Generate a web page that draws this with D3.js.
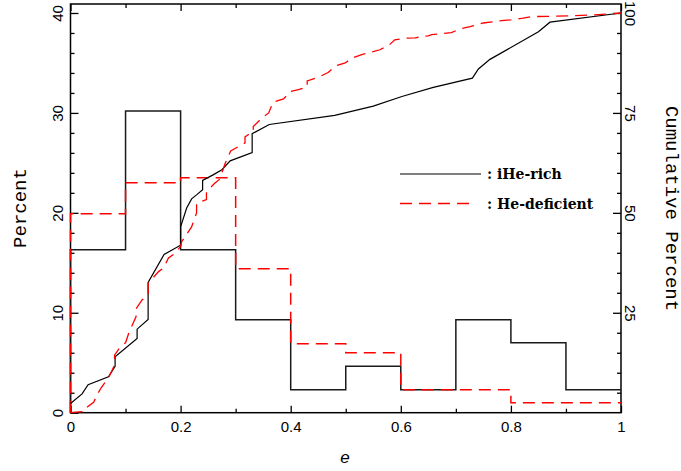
<!DOCTYPE html>
<html>
<head>
<meta charset="utf-8">
<script src="https://cdn.jsdelivr.net/npm/d3@7"></script>
<style>
  body { margin: 0; background: #fff; }
  svg { display: block; }
  .tick text { font-family: "Liberation Sans", Arial, sans-serif; font-size: 15px; fill: #000; }
  .tick line { stroke: #000; stroke-width: 1.3; }
</style>
</head>
<body>
<div class="chart"></div>
<script>
// histogram bins (left edge of each 0.1 bin in e)
var binStarts = [0, 0.1, 0.2, 0.3, 0.4, 0.5, 0.6, 0.7, 0.8, 0.9];
var iHeRichPct = [16.3, 30.2, 16.3, 9.3, 2.3, 4.65, 2.3, 9.3, 7.0, 2.3];
var heDefPct = [19.9, 23.0, 23.5, 14.4, 6.9, 6.0, 2.3, 2.3, 1.0, 1.0];

// cumulative distributions (e, cumulative percent)
var iHeRichCumE = [0, 0.021, 0.032, 0.069, 0.081, 0.081, 0.121, 0.121, 0.141, 0.141, 0.17, 0.2, 0.2, 0.211,
  0.22, 0.229, 0.24, 0.24, 0.259, 0.275, 0.29, 0.33, 0.33, 0.361, 0.48, 0.55, 0.602, 0.659, 0.73, 0.741,
  0.762, 0.85, 0.871, 1.0];
var iHeRichCum = [2.3, 4.7, 7.0, 9.0, 11.6, 14.0, 18.6, 20.9, 23.3, 32.6, 39.6, 41.9, 46.5, 51.2,
  53.5, 54.5, 55.8, 58.1, 59.5, 60.8, 63.0, 65.1, 69.8, 72.1, 74.4, 76.7, 79.1, 81.4, 83.7, 86.0,
  88.4, 95.3, 97.7, 100];

var heDefCumE = [0, 0.025, 0.03, 0.042, 0.05, 0.056, 0.07, 0.08, 0.08, 0.09, 0.1, 0.106, 0.119, 0.119, 0.13,
  0.141, 0.141, 0.16, 0.169, 0.178, 0.19, 0.2, 0.202, 0.22, 0.229, 0.229, 0.247, 0.247, 0.262, 0.27, 0.277,
  0.281, 0.291, 0.317, 0.317, 0.332, 0.332, 0.35, 0.36, 0.368, 0.387, 0.4, 0.414, 0.43, 0.43, 0.453, 0.468,
  0.482, 0.499, 0.511, 0.529, 0.544, 0.562, 0.579, 0.589, 0.608, 0.626, 0.65, 0.656, 0.674, 0.692, 0.707,
  0.726, 0.75, 0.762, 0.783, 0.8, 0.822, 0.838, 0.88, 0.95, 1.0];
var heDefCum = [0, 0.3, 1.4, 2.6, 4.9, 6.3, 9.0, 11.9, 14.4, 16.4, 17.5, 20.0, 24.0, 26.0, 28.2,
  29.5, 32.4, 35.3, 36.2, 38.7, 39.9, 41.6, 42.8, 46.5, 50.0, 52.4, 53.3, 55.3, 57.4, 58.3, 60.8,
  62.4, 65.5, 67.5, 69.0, 70.4, 71.6, 74.0, 75.0, 77.7, 78.5, 80.4, 80.8, 81.5, 83.0, 84.1, 85.1,
  86.8, 87.5, 88.7, 89.6, 90.1, 90.8, 92.0, 93.3, 93.7, 93.8, 94.3, 94.6, 94.8, 95.1, 96.0,
  96.6, 97.5, 97.7, 98.1, 98.3, 98.7, 99.1, 99.2, 99.5, 100];

var xMajor = [0, 0.2, 0.4, 0.6, 0.8, 1];
var xMinor = [0.1, 0.3, 0.5, 0.7, 0.9];
var leftMajor = [0, 10, 20, 30, 40];
var leftMinor = [2, 4, 6, 8, 12, 14, 16, 18, 22, 24, 26, 28, 32, 34, 36, 38];
var rightMajor = [25, 50, 75, 100];
var rightMinor = [5, 10, 15, 20, 30, 35, 40, 45, 55, 60, 65, 70, 80, 85, 90, 95];

var seriesNames = [": iHe-rich", ": He-deficient"];

var width = 681, height = 471;
var plot = {left: 70.5, right: 621, top: 4, bottom: 412.7};

var svg = d3.select('div.chart').append('svg')
    .attr('width', width)
    .attr('height', height);

var xScale = d3.scaleLinear().domain([0, 1]).range([plot.left, plot.right]);
var yLeft = d3.scaleLinear().domain([0, 40.9]).range([plot.bottom, plot.top]);
var yRight = d3.scaleLinear().domain([0, 102.25]).range([plot.bottom, plot.top]);

function cleanAxis(g) {
  g.select('.domain').remove();
}

// bottom
svg.append('g').attr('transform', 'translate(0,' + plot.bottom + ')')
  .call(d3.axisBottom(xScale).tickValues(xMajor).tickSize(-7).tickSizeOuter(0).tickPadding(9)
    .tickFormat(d3.format('')))
  .call(cleanAxis);
svg.append('g').attr('transform', 'translate(0,' + plot.bottom + ')')
  .call(d3.axisBottom(xScale).tickValues(xMinor).tickSize(-4).tickSizeOuter(0).tickFormat(''))
  .call(cleanAxis);
// top
svg.append('g').attr('transform', 'translate(0,' + plot.top + ')')
  .call(d3.axisTop(xScale).tickValues(xMajor).tickSize(-7).tickSizeOuter(0).tickFormat(''))
  .call(cleanAxis);
svg.append('g').attr('transform', 'translate(0,' + plot.top + ')')
  .call(d3.axisTop(xScale).tickValues(xMinor).tickSize(-4).tickSizeOuter(0).tickFormat(''))
  .call(cleanAxis);
// left
svg.append('g').attr('transform', 'translate(' + plot.left + ',0)')
  .call(d3.axisLeft(yLeft).tickValues(leftMajor).tickSize(-8).tickSizeOuter(0))
  .call(cleanAxis)
  .selectAll('text')
  .attr('x', null).attr('dy', null)
  .attr('text-anchor', 'middle')
  .attr('transform', 'translate(-8,0) rotate(-90)');
svg.append('g').attr('transform', 'translate(' + plot.left + ',0)')
  .call(d3.axisLeft(yLeft).tickValues(leftMinor).tickSize(-4).tickSizeOuter(0).tickFormat(''))
  .call(cleanAxis);
// right
svg.append('g').attr('transform', 'translate(' + plot.right + ',0)')
  .call(d3.axisRight(yRight).tickValues(rightMajor).tickSize(-8).tickSizeOuter(0))
  .call(cleanAxis)
  .selectAll('text')
  .attr('x', null).attr('dy', null)
  .attr('text-anchor', 'middle')
  .attr('transform', 'translate(4,0) rotate(90)');
svg.append('g').attr('transform', 'translate(' + plot.right + ',0)')
  .call(d3.axisRight(yRight).tickValues(rightMinor).tickSize(-4).tickSizeOuter(0).tickFormat(''))
  .call(cleanAxis);

// frame
svg.append('rect')
  .attr('x', plot.left).attr('y', plot.top)
  .attr('width', plot.right - plot.left).attr('height', plot.bottom - plot.top)
  .attr('fill', 'none').attr('stroke', '#000').attr('stroke-width', 1.5);

// histograms
function histPoints(vals) {
  var pts = [[0, 0]];
  binStarts.forEach(function (b, i) { pts.push([b, vals[i]]); });
  pts.push([1, vals[vals.length - 1]]);
  return pts;
}
var histLine = d3.line()
    .x(function (d) { return xScale(d[0]); })
    .y(function (d) { return yLeft(d[1]); })
    .curve(d3.curveStepAfter);

svg.append('path')
  .attr('d', histLine(histPoints(iHeRichPct)))
  .attr('fill', 'none').attr('stroke', '#1a1a1a').attr('stroke-width', 1.5);

svg.append('path')
  .attr('d', histLine(histPoints(heDefPct)))
  .attr('fill', 'none').attr('stroke', '#ff0000').attr('stroke-width', 1.5)
  .attr('stroke-dasharray', '12,7');

// cumulative curves
var cumLine = d3.line()
    .x(function (d) { return xScale(d[0]); })
    .y(function (d) { return yRight(d[1]); });

svg.append('path')
  .attr('d', cumLine(d3.zip(iHeRichCumE, iHeRichCum)))
  .attr('fill', 'none').attr('stroke', '#000').attr('stroke-width', 1.2);

svg.append('path')
  .attr('d', cumLine(d3.zip(heDefCumE, heDefCum)))
  .attr('fill', 'none').attr('stroke', '#ff0000').attr('stroke-width', 1.3)
  .attr('stroke-dasharray', '12,7');

// legend
var legend = svg.append('g').attr('class', 'legend');
legend.append('line')
  .attr('x1', 400).attr('x2', 481).attr('y1', 174).attr('y2', 174)
  .attr('stroke', '#000').attr('stroke-width', 1.2);
legend.append('line')
  .attr('x1', 400).attr('x2', 474).attr('y1', 203.5).attr('y2', 203.5)
  .attr('stroke', '#ff0000').attr('stroke-width', 1.3).attr('stroke-dasharray', '12,7');
legend.selectAll('text')
  .data(seriesNames)
  .enter().append('text')
  .attr('x', 487)
  .attr('y', function (d, i) { return 179 + i * 29.5; })
  .style('font-family', '"DejaVu Serif", serif')
  .style('font-weight', 'bold')
  .style('font-size', '14px')
  .text(function (d) { return d; });

// axis titles
svg.append('text')
  .attr('transform', 'translate(25.5,208) rotate(-90)')
  .attr('text-anchor', 'middle')
  .style('font-family', '"Liberation Mono", "Courier New", monospace')
  .style('font-size', '19px')
  .text('Percent');

svg.append('text')
  .attr('transform', 'translate(666,208.5) rotate(90)')
  .attr('text-anchor', 'middle')
  .style('font-family', '"Liberation Mono", "Courier New", monospace')
  .style('font-size', '19px')
  .text('Cumulative Percent');

svg.append('text')
  .attr('x', 345).attr('y', 463)
  .attr('text-anchor', 'middle')
  .style('font-family', '"Liberation Sans", Arial, sans-serif')
  .style('font-style', 'italic')
  .style('font-size', '17px')
  .text('e');
</script>
</body>
</html>
